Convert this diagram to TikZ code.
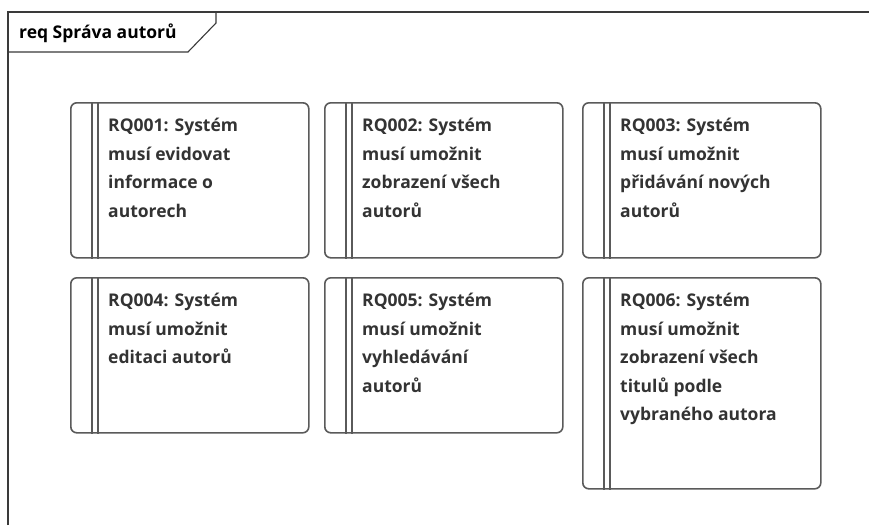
\documentclass[tikz,border=0pt]{standalone}
\usepackage{fontspec}
\setmainfont{Open Sans}
\definecolor{boxline}{HTML}{5A5A5A}
\definecolor{frameline}{HTML}{3A3A3A}
\definecolor{txt}{HTML}{333333}
\tikzset{
  reqbox/.style={draw=boxline, line width=1.6pt, rounded corners=6pt, anchor=north west, inner sep=0pt},
  reqtext/.style={anchor=north west, inner sep=0pt, align=left, text=txt, font=\fontsize{17.5}{28.5}\selectfont\bfseries},
  barline/.style={draw=boxline, line width=1.6pt}
}
\newcommand{\reqbox}[6]{% name, x, y, w, h, text
  \node[reqbox, minimum width=#4pt, minimum height=#5pt] (#1) at (#2,#3) {};
  \draw[barline] ([xshift=22pt]#1.north west) -- ([xshift=22pt]#1.south west);
  \draw[barline] ([xshift=28pt]#1.north west) -- ([xshift=28pt]#1.south west);
  \node[reqtext] (#1t) at ([xshift=38pt,yshift=-16pt]#1.north west) {#6};
}
\begin{document}
\begin{tikzpicture}[x=1pt,y=-1pt]
\useasboundingbox (0,0) rectangle (869,525);
\fill[white] (0,0) rectangle (869,525);
% frame
\draw[frameline, line width=1.3pt] (8,525) -- (8,12) -- (869,12);
\draw[frameline, line width=1.1pt] (8,52) -- (188,52) -- (216,23) -- (216,12);
\node[anchor=base west, inner sep=0pt, text=black, font=\fontsize{17.5}{20}\selectfont\bfseries] (title) at (19,38) {req Správa autorů};
% boxes
\reqbox{r1}{70}{102}{238}{155}{RQ001: Systém\\musí evidovat\\informace o\\autorech}
\reqbox{r2}{324}{102}{238}{155}{RQ002: Systém\\musí umožnit\\zobrazení všech\\autorů}
\reqbox{r3}{582}{102}{238}{155}{RQ003: Systém\\musí umožnit\\přidávání nových\\autorů}
\reqbox{r4}{70}{277}{238}{155}{RQ004: Systém\\musí umožnit\\editaci autorů}
\reqbox{r5}{324}{277}{238}{155}{RQ005: Systém\\musí umožnit\\vyhledávání\\autorů}
\reqbox{r6}{582}{277}{238}{211}{RQ006: Systém\\musí umožnit\\zobrazení všech\\titulů podle\\vybraného autora}
\end{tikzpicture}
\end{document}
